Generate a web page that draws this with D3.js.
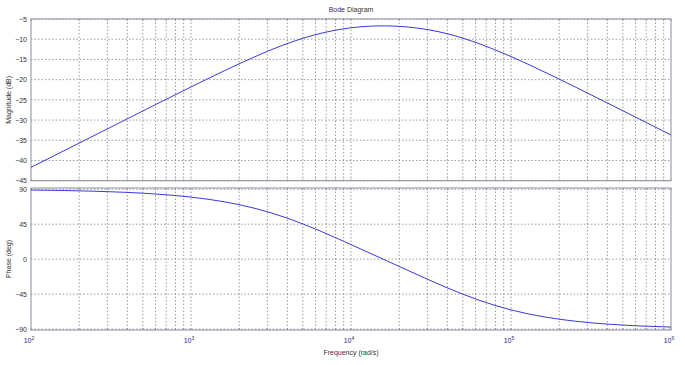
<!DOCTYPE html>
<html><head><meta charset="utf-8">
<script src="https://cdn.jsdelivr.net/npm/d3@7"></script>
<style>
html,body{margin:0;padding:0;background:#fff;}
text{font-family:"Liberation Sans",Arial,sans-serif;}
</style>
</head><body>
<svg id="chart" width="685" height="365"></svg>
<script>
// frequency samples (log10 of rad/s)
const logFreq = [2.0,2.2,2.4,2.6,2.8,3.0,3.2,3.4,3.6,3.8,4.0,4.2,4.4,4.6,4.8,5.0,5.2,5.4,5.6,5.8,6.0];
// magnitude (dB)
const magnitude = [-41.71,-37.71,-33.72,-29.73,-25.75,-21.81,-17.96,-14.32,-11.10,-8.65,-7.18,-6.70,-7.17,-8.63,-11.09,-14.29,-17.94,-21.78,-25.72,-29.70,-33.69];
// phase (deg)
const phase = [88.98,88.39,87.44,85.95,83.59,79.88,74.12,65.40,52.95,36.90,18.75,0.08,-18.61,-36.77,-52.84,-65.31,-74.06,-79.84,-83.57,-85.94,-87.43];
const magTicks = [-5,-10,-15,-20,-25,-30,-35,-40,-45];
const phaseTicks = [90,45,0,-45,-90];
const decadeTicks = [2,3,4,5,6];
const titleText = "Bode Diagram";
const xLabel = "Frequency  (rad/s)";
const magLabel = "Magnitude (dB)";
const phaseLabel = "Phase (deg)";

const svg = d3.select("#chart");
const left = 31, right = 671;
const x = d3.scaleLog().domain([1e2, 1e6]).range([left, right]);
const yMag = d3.scaleLinear().domain([-45, -5]).range([180.7, 19]);
const yPh = d3.scaleLinear().domain([-91.2, 91.6]).range([330, 188]);

const minorVals = [];
for (let d = 2; d < 6; d++) for (let m = 1; m <= 9; m++) minorVals.push(m * Math.pow(10, d));
minorVals.push(1e6);

const gridColor = "#707070";
const boxColor = "#8c8c9c";
const lineColor = "#3a3ad6";
const textColor = "#333";

function panel(y, ticks, vals, label) {
  const [y0, y1] = [y.range()[1], y.range()[0]];
  const g = svg.append("g");
  g.selectAll("line.vg").data(minorVals.filter(v => v > 1e2 && v < 1e6)).enter().append("line")
    .attr("x1", d => x(d)).attr("x2", d => x(d)).attr("y1", y0).attr("y2", y1)
    .attr("stroke", gridColor).attr("stroke-width", 0.7).attr("stroke-dasharray", "1.5,2");
  g.selectAll("line.hg").data(ticks).enter().append("line")
    .attr("x1", left).attr("x2", right).attr("y1", d => y(d)).attr("y2", d => y(d))
    .attr("stroke", gridColor).attr("stroke-width", 0.7).attr("stroke-dasharray", "1.5,2");
  g.selectAll("line.mt").data(minorVals).enter().append("line")
    .attr("x1", d => x(d)).attr("x2", d => x(d)).attr("y1", y1).attr("y2", y1 - 2)
    .attr("stroke", boxColor).attr("stroke-width", 0.7);
  g.selectAll("line.mt2").data(minorVals).enter().append("line")
    .attr("x1", d => x(d)).attr("x2", d => x(d)).attr("y1", y0).attr("y2", y0 + 2)
    .attr("stroke", boxColor).attr("stroke-width", 0.7);
  g.append("rect").attr("x", left).attr("y", y0).attr("width", right - left).attr("height", y1 - y0)
    .attr("fill", "none").attr("stroke", boxColor).attr("stroke-width", 1);
  const ax = d3.axisLeft(y).tickValues(ticks).tickSize(0).tickPadding(4).tickFormat(d3.format("d"));
  const ag = g.append("g").attr("transform", `translate(${left},0)`).call(ax);
  ag.select(".domain").remove();
  ag.selectAll("text").attr("font-size", 7).attr("fill", textColor).attr("font-family", "Liberation Sans, Arial, sans-serif");
  const line = d3.line().x((d, i) => x(Math.pow(10, logFreq[i]))).y(d => y(d)).curve(d3.curveMonotoneX);
  g.append("path").datum(vals).attr("d", line).attr("fill", "none").attr("stroke", lineColor).attr("stroke-width", 1);
  svg.append("text").attr("transform", `translate(11,${(y0 + y1) / 2}) rotate(-90)`)
    .attr("text-anchor", "middle").attr("font-size", 7).attr("fill", textColor).text(label);
}

panel(yMag, magTicks, magnitude, magLabel);
panel(yPh, phaseTicks, phase, phaseLabel);

const xt = svg.append("g");
decadeTicks.forEach(p => {
  const t = xt.append("text").attr("x", x(Math.pow(10, p)) - 2).attr("y", 343)
    .attr("text-anchor", "middle").attr("font-size", 7).attr("fill", textColor);
  t.append("tspan").text("10");
  t.append("tspan").attr("font-size", 5).attr("dy", -3).text(p);
});

svg.append("text").attr("x", 351).attr("y", 355).attr("text-anchor", "middle")
  .attr("font-size", 7).attr("fill", textColor).text(xLabel);
svg.append("text").attr("x", 351).attr("y", 12).attr("text-anchor", "middle")
  .attr("font-size", 7).attr("fill", textColor).text(titleText);
</script>
</body></html>
